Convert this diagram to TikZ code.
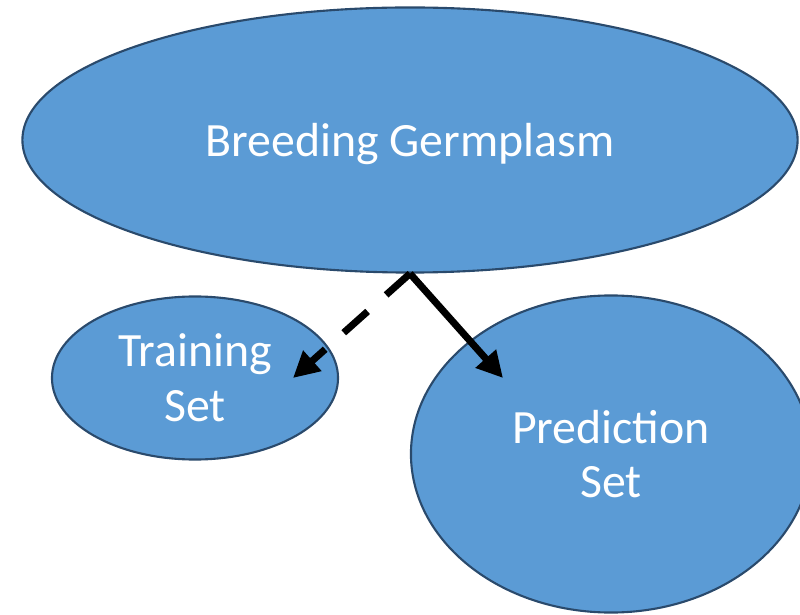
\documentclass[tikz,border=0pt]{standalone}
\usepackage{fontspec}
\setmainfont{Carlito}
\usetikzlibrary{arrows.meta, positioning, shapes.geometric}
\definecolor{SetBlue}{HTML}{5B9BD5}
\definecolor{SetEdge}{HTML}{2A4A6C}

\begin{document}
\begin{tikzpicture}[
    x=0.025cm, y=-0.025cm,
    font=\fontsize{34}{39}\selectfont,
    set/.style={ellipse, draw=SetEdge, line width=1.5pt, fill=SetBlue, text=white,
        align=center, inner sep=0pt},
    link/.style={-{Triangle[length=6.5mm, width=6.5mm]}, line width=5pt, black},
]
\useasboundingbox (0,0) rectangle (800,615);

% --- conjunto de partida ---
\node[set, minimum width=19.375cm, minimum height=6.625cm, text depth=0pt] (germ) at (410,140)
    {Breeding Germplasm};

% --- subconjuntos ---
\node[set, minimum width=7.15cm, minimum height=4.075cm] (train) at (195,378)
    {Training\\Set};
\node[set, minimum width=10cm, minimum height=7.925cm] (pred) at (611,454)
    {Prediction\\Set};

% puntas de las flechas
\coordinate (trainTip) at (293,378);
\coordinate (predTip) at (503,378);

\draw[link, dash pattern=on 0.8cm off 0.62cm] (germ.south) -- (trainTip);
\draw[link] (germ.south) -- (predTip);

\end{tikzpicture}
\end{document}
